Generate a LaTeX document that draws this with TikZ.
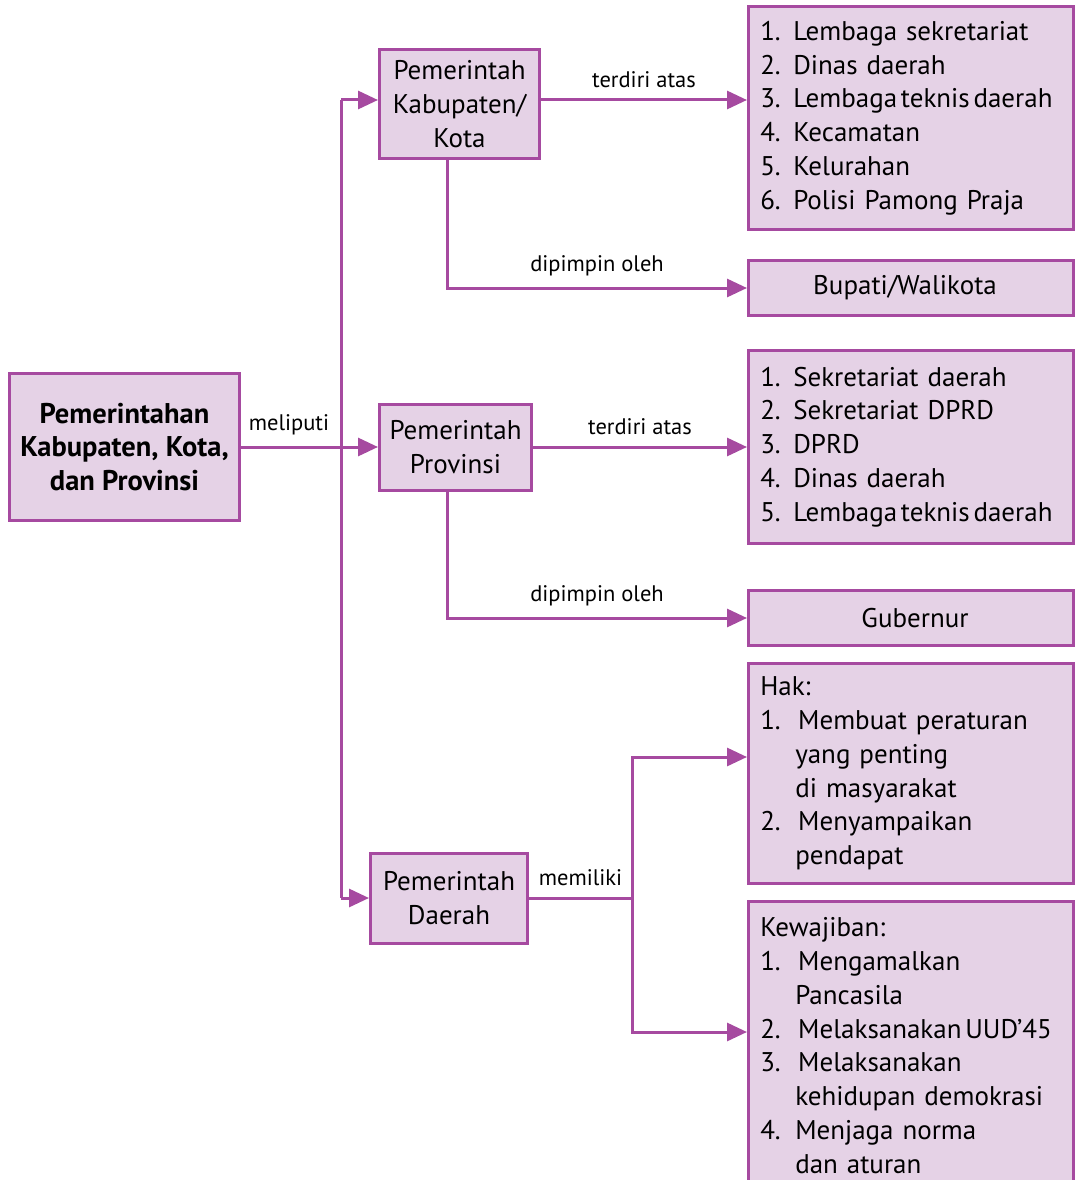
\documentclass[tikz,border=0pt]{standalone}
\usepackage{fontspec}
\setmainfont{PT Sans}
\usepackage{xcolor}
\usetikzlibrary{arrows.meta, positioning}
\definecolor{ungu}{RGB}{166,74,160}
\definecolor{ungumuda}{RGB}{229,210,230}
\newcommand{\butir}[2][33pt]{\makebox[#1][l]{#2}}
\newcommand{\sela}{\hspace{0.14em}}

\begin{document}
\begin{tikzpicture}[x=1pt, y=-1pt, font=\fontsize{27}{33.8}\selectfont,
	kotak/.style={draw=ungu, fill=ungumuda, line width=3pt, inner sep=0pt, align=center},
	daftar/.style={kotak, align=left, minimum width=325pt, text width=301.5pt},
	garis/.style={draw=ungu, line width=3pt},
	panah/.style={garis, -{Triangle[length=20pt, width=18pt]}},
	ket/.style={font=\fontsize{22.5}{26}\selectfont, inner sep=2pt}]
	\def\trunk{341}
	\def\cabang{632}

	\useasboundingbox (0,0) rectangle (1076,1180);

	\node[kotak, minimum width=230pt, minimum height=147pt, font=\fontsize{28.5}{33.8}\selectfont\bfseries] (utama) at (124.5,447) {Pemerintahan\\Kabupaten, Kota,\\dan Provinsi};

	\node[kotak, minimum width=160pt, minimum height=109pt] (kab) at (459.5,104) {Pemerintah\\Kabupaten/\\Kota};
	\node[kotak, minimum width=152pt, minimum height=86pt] (prov) at (455.5,447) {Pemerintah\\Provinsi};
	\node[kotak, minimum width=157pt, minimum height=90pt] (daerah) at (449,898) {Pemerintah\\Daerah};

	\node[daftar, minimum height=223pt] (daftar1) at (911,118) {\butir{1.}Lembaga sekretariat\\\butir{2.}Dinas daerah\\\butir{3.}Lembaga\sela teknis\sela daerah\\\butir{4.}Kecamatan\\\butir{5.}Kelurahan\\\butir{6.}Polisi Pamong Praja};
	\node[kotak, minimum width=325pt, minimum height=55pt] (bupati) at (911,288) {\hspace*{-12pt}Bupati/Walikota};
	\node[daftar, minimum height=193pt] (daftar2) at (911,447) {\butir{1.}Sekretariat daerah\\\butir{2.}Sekretariat DPRD\\\butir{3.}DPRD\\\butir{4.}Dinas daerah\\\butir{5.}Lembaga\sela teknis\sela daerah};
	\node[kotak, minimum width=325pt, minimum height=55pt] (gubernur) at (911,618) {\hspace*{8pt}Gubernur};
	\node[daftar, minimum height=220pt] (hak) at (911,773.5) {Hak:\\\butir[38pt]{1.}Membuat peraturan\\\hspace*{35pt}yang penting\\\hspace*{35pt}di masyarakat\\\butir[38pt]{2.}Menyampaikan\\\hspace*{35pt}pendapat};
	\node[daftar, minimum height=288pt] (wajib) at (911,1045.5) {Kewajiban:\\\butir[38pt]{1.}Mengamalkan\\\hspace*{35pt}Pancasila\\\butir[38pt]{2.}Melaksanakan\sela UUD'45\\\butir[38pt]{3.}Melaksanakan\\\hspace*{35pt}kehidupan demokrasi\\\butir[35pt]{4.}Menjaga norma\\\hspace*{35pt}dan aturan};

	\coordinate (atas) at (\trunk,100);
	\coordinate (bawah) at (\trunk,898);
	\coordinate (pisah) at (\cabang,898);

	\draw[panah] (utama.east) -- (prov.west) node[ket, pos=0.35, above=9pt] (meliputi) {meliputi};
	\draw[garis] (atas) -- (bawah);
	\draw[panah] (atas) -- (atas -| kab.west);
	\draw[panah] (bawah) -- (daerah.west);

	\draw[panah] (atas -| kab.east) -- (atas -| daftar1.west) node[ket, midway, above=9pt] (terdiri1) {terdiri atas};
	\draw[panah] ([xshift=-12.5pt]kab.south) |- (bupati.west) node[ket, pos=0.75, above=9pt] (dipimpin1) {dipimpin oleh};
	\draw[panah] (prov.east) -- (daftar2.west) node[ket, midway, above=9pt] (terdiri2) {terdiri atas};
	\draw[panah] ([xshift=-8.5pt]prov.south) |- (gubernur.west) node[ket, pos=0.75, above=9pt] (dipimpin2) {dipimpin oleh};

	\draw[garis] (daerah.east) -- (pisah) node[ket, midway, above=9pt] (memiliki) {memiliki};
	\draw[panah] (pisah) |- ([yshift=16.5pt]hak.west);
	\draw[panah] (pisah) |- ([yshift=13.5pt]wajib.west);
\end{tikzpicture}
\end{document}
